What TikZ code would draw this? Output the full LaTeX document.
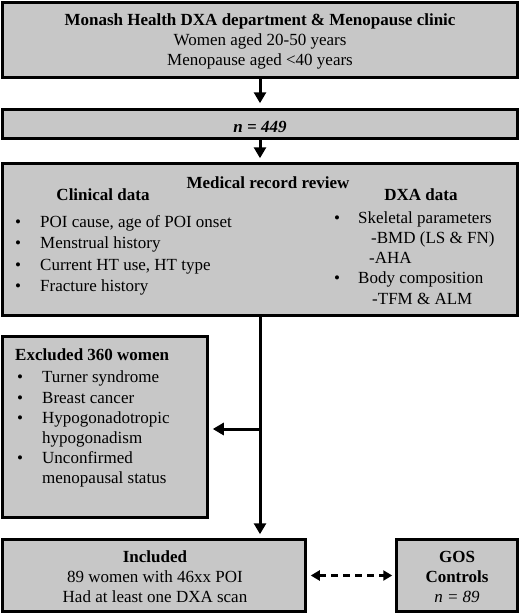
\documentclass[tikz,border=0pt]{standalone}
\usepackage{fontspec}
\setmainfont{Liberation Serif}
\usetikzlibrary{arrows.meta}
\definecolor{boxgray}{RGB}{199,199,199}
\tikzset{
  box/.style={draw=black, fill=boxgray, line width=2.5pt, inner sep=0pt, rectangle},
  txt/.style={anchor=base, inner sep=0pt, font=\fontsize{17}{20}\selectfont},
  txtl/.style={txt, anchor=base west},
  bul/.style={txt, anchor=base},
  arr/.style={line width=3pt, -{Triangle[length=11pt,width=12pt]}},
  darr/.style={line width=2.5pt, dash pattern=on 7pt off 5pt, {Triangle[length=9pt,width=10pt]}-{Triangle[length=9pt,width=10pt]}}
}
\begin{document}
\begin{tikzpicture}[x=1pt,y=-1pt]
\useasboundingbox (0,0) rectangle (520,614);
% boxes
\node[box, minimum width=515pt, minimum height=75pt] (b1) at (260,40) {};
\node[box, minimum width=515pt, minimum height=29pt] (b2) at (260,124) {};
\node[box, minimum width=515pt, minimum height=152pt] (b3) at (260,239.5) {};
\node[box, minimum width=205pt, minimum height=181pt] (ex) at (105,427) {};
\node[box, minimum width=303pt, minimum height=72pt] (inc) at (154,575.5) {};
\node[box, minimum width=121pt, minimum height=72pt] (gos) at (457,575.5) {};
% box 1 text
\node[txt, font=\fontsize{17}{20}\selectfont\bfseries] (t1) at (260,25) {Monash Health DXA department \& Menopause clinic};
\node[txt] (t2) at (260,45) {Women aged 20-50 years};
\node[txt] (t3) at (260,65) {Menopause aged <40 years};
% box 2
\node[txt, font=\fontsize{17}{20}\selectfont\bfseries\itshape] (t4) at (260,132) {n = 449};
% box 3
\node[txt, font=\fontsize{17}{20}\selectfont\bfseries] (t5) at (268,188) {Medical record review};
\node[txt, font=\fontsize{17}{20}\selectfont\bfseries] (t6) at (103,200) {Clinical data};
\node[txt, font=\fontsize{17}{20}\selectfont\bfseries] (t7) at (421,200) {DXA data};
\node[bul] (c1b) at (18,227) {\textbullet};
\node[txtl] (c1) at (40,227) {POI cause, age of POI onset};
\node[bul] (c2b) at (18,248.5) {\textbullet};
\node[txtl] (c2) at (40,248.5) {Menstrual history};
\node[bul] (c3b) at (18,270) {\textbullet};
\node[txtl] (c3) at (40,270) {Current HT use, HT type};
\node[bul] (c4b) at (18,291.5) {\textbullet};
\node[txtl] (c4) at (40,291.5) {Fracture history};
\node[bul] (d1b) at (337,223) {\textbullet};
\node[txtl] (d1) at (358,223) {Skeletal parameters};
\node[txtl] (d2) at (371,243) {-BMD (LS \& FN)};
\node[txtl] (d3) at (369,263) {-AHA};
\node[bul] (d4b) at (337,283) {\textbullet};
\node[txtl] (d4) at (358,283) {Body composition};
\node[txtl] (d5) at (372,304) {-TFM \& ALM};
% excluded
\node[txtl, font=\fontsize{17}{20}\selectfont\bfseries] (e0) at (15,360) {Excluded 360 women};
\node[bul] (e1b) at (20,382) {\textbullet};
\node[txtl] (e1) at (42,382) {Turner syndrome};
\node[bul] (e2b) at (20,403) {\textbullet};
\node[txtl] (e2) at (42,403) {Breast cancer};
\node[bul] (e3b) at (20,423) {\textbullet};
\node[txtl] (e3) at (42,423) {Hypogonadotropic};
\node[txtl] (e3c) at (42,443) {hypogonadism};
\node[bul] (e4b) at (20,463) {\textbullet};
\node[txtl] (e4) at (42,463) {Unconfirmed};
\node[txtl] (e4c) at (42,483) {menopausal status};
% included
\node[txt, font=\fontsize{17}{20}\selectfont\bfseries] (i1) at (155,562) {Included};
\node[txt] (i2) at (155,582) {89 women with 46xx POI};
\node[txt] (i3) at (155,602) {Had at least one DXA scan};
% GOS
\node[txt, font=\fontsize{17}{20}\selectfont\bfseries] (g1) at (457,562) {GOS};
\node[txt, font=\fontsize{17}{20}\selectfont\bfseries] (g2) at (457,582) {Controls};
\node[txt, font=\fontsize{17}{20}\selectfont\itshape] (g3) at (457,602) {n = 89};
% connectors
\draw[arr, shorten >=5pt] (b1.south) -- (b2.north);
\draw[arr, shorten >=4pt] (b2.south) -- (b3.north);
\coordinate (bot) at (b3.south |- inc.north);
\draw[arr, shorten >=4pt] (b3.south) -- (bot);
\coordinate (j) at (260,429);
\draw[arr, shorten >=4pt] (j) -- (ex.east |- j);
\draw[darr, shorten <=4pt, shorten >=3pt] (inc.east) -- (gos.west);
\end{tikzpicture}
\end{document}
